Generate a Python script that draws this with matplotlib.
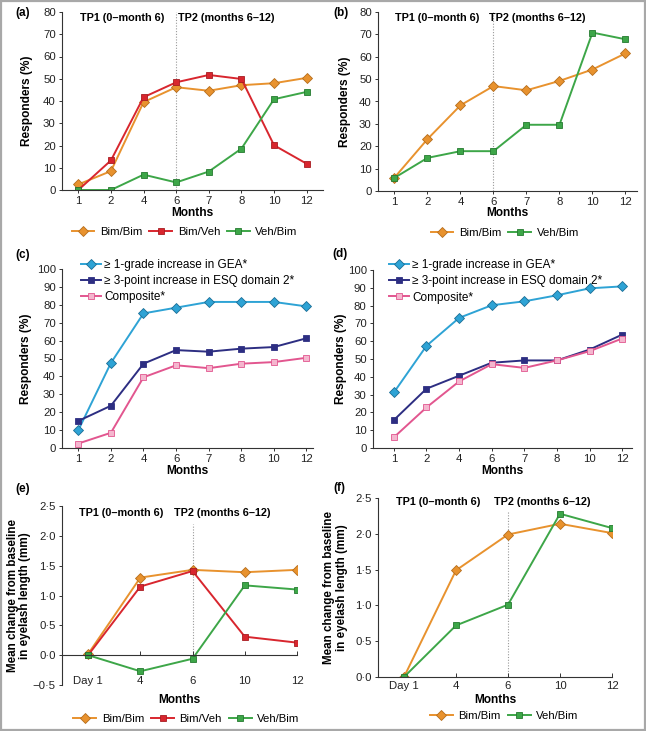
import matplotlib
matplotlib.use("Agg")
import matplotlib.pyplot as plt
from matplotlib.ticker import FuncFormatter, MultipleLocator
from matplotlib.patches import Rectangle

plt.rcParams['font.family'] = ['Liberation Sans', 'DejaVu Sans']

# ---------------- data ----------------
months = ['1', '2', '4', '6', '7', '8', '10', '12']
a_bim_bim = [2.5, 8.5, 39.5, 46.2, 44.6, 47.1, 48.0, 50.4]
a_bim_veh = [0.0, 13.3, 41.7, 48.4, 51.7, 49.9, 20.1, 11.8]
a_veh_bim = [0.0, 0.0, 6.9, 3.4, 8.3, 18.6, 40.8, 44.1]

b_bim_bim = [6.0, 23.2, 38.3, 46.9, 45.0, 49.2, 54.3, 61.5]
b_veh_bim = [5.9, 14.8, 17.8, 17.8, 29.6, 29.6, 70.8, 67.8]

c_gea = [9.9, 47.5, 75.2, 78.4, 81.6, 81.6, 81.6, 79.1]
c_esq = [15.1, 23.6, 47.1, 54.7, 53.8, 55.5, 56.4, 61.3]
c_comp = [2.5, 8.5, 39.5, 46.2, 44.6, 47.1, 48.0, 50.4]

d_gea = [31.2, 57.4, 73.1, 80.2, 82.4, 85.8, 89.7, 90.8]
d_esq = [15.7, 33.3, 40.6, 47.9, 49.2, 49.2, 55.3, 63.7]
d_comp = [6.0, 22.8, 37.4, 47.1, 45.0, 49.2, 54.4, 61.5]

length_visits = ['Day 1', '4', '6', '10', '12']
e_bim_bim = [0.02, 1.30, 1.43, 1.39, 1.43]
e_bim_veh = [0.0, 1.15, 1.41, 0.31, 0.21]
e_veh_bim = [0.0, -0.27, -0.06, 1.17, 1.10]

f_bim_bim = [0.0, 1.49, 1.99, 2.14, 2.01]
f_veh_bim = [0.0, 0.72, 1.01, 2.28, 2.08]

tp1_label = 'TP1 (0\u2013month 6)'
tp2_label = 'TP2 (months 6\u201312)'

# ---------------- styles ----------------
ORANGE = '#E8922E'
ORANGE_E = '#B56D1C'
RED = '#D8262E'
GREEN = '#3DA648'
GREEN_E = '#257A30'
CYAN = '#2EA3D5'
CYAN_E = '#1B6E96'
NAVY = '#2D2E82'
PINK = '#E2568F'
PINK_F = '#F4B6CE'

W, H = 646, 731
fig = plt.figure(figsize=(W / 100, H / 100), dpi=100)
fig.patches.append(Rectangle((0.0015, 0.0015), 0.997, 0.997, transform=fig.transFigure,
                             fill=False, edgecolor='#A8A8A8', linewidth=1.6))


def add_ax(left, right, top, bottom):
    return fig.add_axes([left / W, 1 - bottom / H, (right - left) / W, (bottom - top) / H])


def style(ax, ylab_x, xlab_top_px, bottom_px, h_px, ylabel='Responders (%)', ylfs=8.6):
    for s in ['top', 'right']:
        ax.spines[s].set_visible(False)
    for s in ['left', 'bottom']:
        ax.spines[s].set_color('#333333')
        ax.spines[s].set_linewidth(0.8)
    ax.tick_params(labelsize=8.2, length=2.5, width=0.7, pad=2, color='#333333', labelcolor='#222222')
    ax.set_ylabel(ylabel, fontsize=ylfs, fontweight='bold', linespacing=1.05)
    ax.yaxis.set_label_coords(ylab_x, 0.5)
    ax.set_xlabel('Months', fontsize=8.6, fontweight='bold')
    ax.xaxis.set_label_coords(0.5, -(xlab_top_px - bottom_px) / h_px)


def plot_series(ax, x, y, color, marker, mfc, mec, ms, label):
    ax.plot(x, y, color=color, lw=1.4, marker=marker, markersize=ms,
            markerfacecolor=mfc, markeredgecolor=mec, markeredgewidth=0.6, label=label)


def bottom_legend(ax, x, y, ncol):
    ax.legend(loc='center', bbox_to_anchor=(x, y), ncol=ncol, frameon=False, fontsize=8.2,
              handlelength=2.0, columnspacing=0.6, handletextpad=0.5)


def top_legend(ax, x, y):
    ax.legend(loc='upper left', bbox_to_anchor=(x, y), frameon=False, fontsize=8.5,
              handlelength=1.7, handletextpad=0.3, labelspacing=0.35, borderpad=0, borderaxespad=0)


pos8 = list(range(len(months)))
pos5 = list(range(len(length_visits)))

# ---------- (a) ----------
ax = add_ax(62, 323, 12, 190)
plot_series(ax, pos8, a_bim_bim, ORANGE, 'D', ORANGE, ORANGE_E, 5.5, 'Bim/Bim')
plot_series(ax, pos8, a_bim_veh, RED, 's', RED, '#A81C22', 4.5, 'Bim/Veh')
plot_series(ax, pos8, a_veh_bim, GREEN, 's', GREEN, GREEN_E, 4.5, 'Veh/Bim')
ax.set_xlim(-0.5, 7.5)
ax.set_ylim(0, 80)
ax.yaxis.set_major_locator(MultipleLocator(10))
ax.set_xticks(pos8, months)
ax.axvline(3, color='#999999', lw=0.8, ls=(0, (1, 1.5)), zorder=0)
ax.text(1.33, 77.3, tp1_label, ha='center', va='center', fontsize=7.8, fontweight='bold')
ax.text(4.54, 77.3, tp2_label, ha='center', va='center', fontsize=7.8, fontweight='bold')
style(ax, -0.11, 207, 190, 178)
bottom_legend(ax, 0.47, -0.236, 3)

# ---------- (b) ----------
ax = add_ax(378, 637, 12, 191)
plot_series(ax, pos8, b_bim_bim, ORANGE, 'D', ORANGE, ORANGE_E, 5.5, 'Bim/Bim')
plot_series(ax, pos8, b_veh_bim, GREEN, 's', GREEN, GREEN_E, 4.5, 'Veh/Bim')
ax.set_xlim(-0.5, 7.35)
ax.set_ylim(0, 80)
ax.yaxis.set_major_locator(MultipleLocator(10))
ax.set_xticks(pos8, months)
ax.axvline(3, color='#999999', lw=0.8, ls=(0, (1, 1.5)), zorder=0)
ax.text(1.28, 77.3, tp1_label, ha='center', va='center', fontsize=7.8, fontweight='bold')
ax.text(4.34, 77.3, tp2_label, ha='center', va='center', fontsize=7.8, fontweight='bold')
style(ax, -0.105, 207, 191, 179)
bottom_legend(ax, 0.49, -0.235, 2)

# ---------- (c) ----------
ax = add_ax(62, 313, 269, 448)
plot_series(ax, pos8, c_gea, CYAN, 'D', CYAN, CYAN_E, 5.5, '\u2265 1-grade increase in GEA*')
plot_series(ax, pos8, c_esq, NAVY, 's', NAVY, NAVY, 4.5, '\u2265 3-point increase in ESQ domain 2*')
plot_series(ax, pos8, c_comp, PINK, 's', PINK_F, PINK, 4.5, 'Composite*')
ax.set_xlim(-0.5, 7.2)
ax.set_ylim(0, 100)
ax.yaxis.set_major_locator(MultipleLocator(10))
ax.set_xticks(pos8, months)
style(ax, -0.12, 465, 448, 179)
top_legend(ax, 0.075, 1.055)

# ---------- (d) ----------
ax = add_ax(373, 632, 270, 448)
plot_series(ax, pos8, d_gea, CYAN, 'D', CYAN, CYAN_E, 5.5, '\u2265 1-grade increase in GEA*')
plot_series(ax, pos8, d_esq, NAVY, 's', NAVY, NAVY, 4.5, '\u2265 3-point increase in ESQ domain 2*')
plot_series(ax, pos8, d_comp, PINK, 's', PINK_F, PINK, 4.5, 'Composite*')
ax.set_xlim(-0.64, 7.3)
ax.set_ylim(0, 100)
ax.yaxis.set_major_locator(MultipleLocator(10))
ax.set_xticks(pos8, months)
style(ax, -0.10, 465, 448, 178)
top_legend(ax, 0.06, 1.06)

dotfmt = FuncFormatter(lambda v, p: ('%.1f' % v).replace('.', '\u00b7').replace('-', '\u2212'))

# ---------- (e) ----------
ax = add_ax(62, 297, 506, 685)
plot_series(ax, pos5, e_bim_bim, ORANGE, 'D', ORANGE, ORANGE_E, 5.5, 'Bim/Bim')
plot_series(ax, pos5, e_bim_veh, RED, 's', RED, '#A81C22', 4.5, 'Bim/Veh')
plot_series(ax, pos5, e_veh_bim, GREEN, 's', GREEN, GREEN_E, 4.5, 'Veh/Bim')
ax.set_xlim(-0.5, 4)
ax.set_ylim(-0.5, 2.5)
ax.yaxis.set_major_locator(MultipleLocator(0.5))
ax.yaxis.set_major_formatter(dotfmt)
ax.set_xticks(pos5, length_visits)
ax.axvline(2, ymin=0.5 / 3.0, ymax=2.7 / 3.0, color='#999999', lw=0.8, ls=(0, (1, 1.5)), zorder=0)
ax.text(0.64, 2.38, tp1_label, ha='center', va='center', fontsize=7.8, fontweight='bold')
ax.text(2.56, 2.38, tp2_label, ha='center', va='center', fontsize=7.8, fontweight='bold')
style(ax, -0.13, 694, 685, 179, 'Mean change from baseline\nin eyelash length (mm)', 8.4)
ax.spines['bottom'].set_position(('data', 0))
ax.tick_params(axis='x', direction='in', length=3, pad=15)
bottom_legend(ax, 0.53, -0.19, 3)

# ---------- (f) ----------
ax = add_ax(378, 612, 498, 677)
plot_series(ax, pos5, f_bim_bim, ORANGE, 'D', ORANGE, ORANGE_E, 5.5, 'Bim/Bim')
plot_series(ax, pos5, f_veh_bim, GREEN, 's', GREEN, GREEN_E, 4.5, 'Veh/Bim')
ax.set_xlim(-0.5, 4)
ax.set_ylim(0, 2.5)
ax.yaxis.set_major_locator(MultipleLocator(0.5))
ax.yaxis.set_major_formatter(dotfmt)
ax.set_xticks(pos5, length_visits)
ax.axvline(2, ymin=0, ymax=2.3 / 2.5, color='#999999', lw=0.8, ls=(0, (1, 1.5)), zorder=0)
ax.text(0.65, 2.44, tp1_label, ha='center', va='center', fontsize=7.8, fontweight='bold')
ax.text(2.66, 2.44, tp2_label, ha='center', va='center', fontsize=7.8, fontweight='bold')
style(ax, -0.13, 694, 677, 179, 'Mean change from baseline\nin eyelash length (mm)', 8.4)
ax.tick_params(axis='x', direction='in', length=3, pad=3)
bottom_legend(ax, 0.54, -0.22, 2)

# panel letters
for lab, xp, yp in [('(a)', 15, 13), ('(b)', 333, 13), ('(c)', 15, 255),
                    ('(d)', 332, 254), ('(e)', 15, 489), ('(f)', 333, 488)]:
    fig.text(xp / W, 1 - yp / H, lab, ha='left', va='center', fontsize=8.5, fontweight='bold')

fig.savefig('out.png', dpi=100)
